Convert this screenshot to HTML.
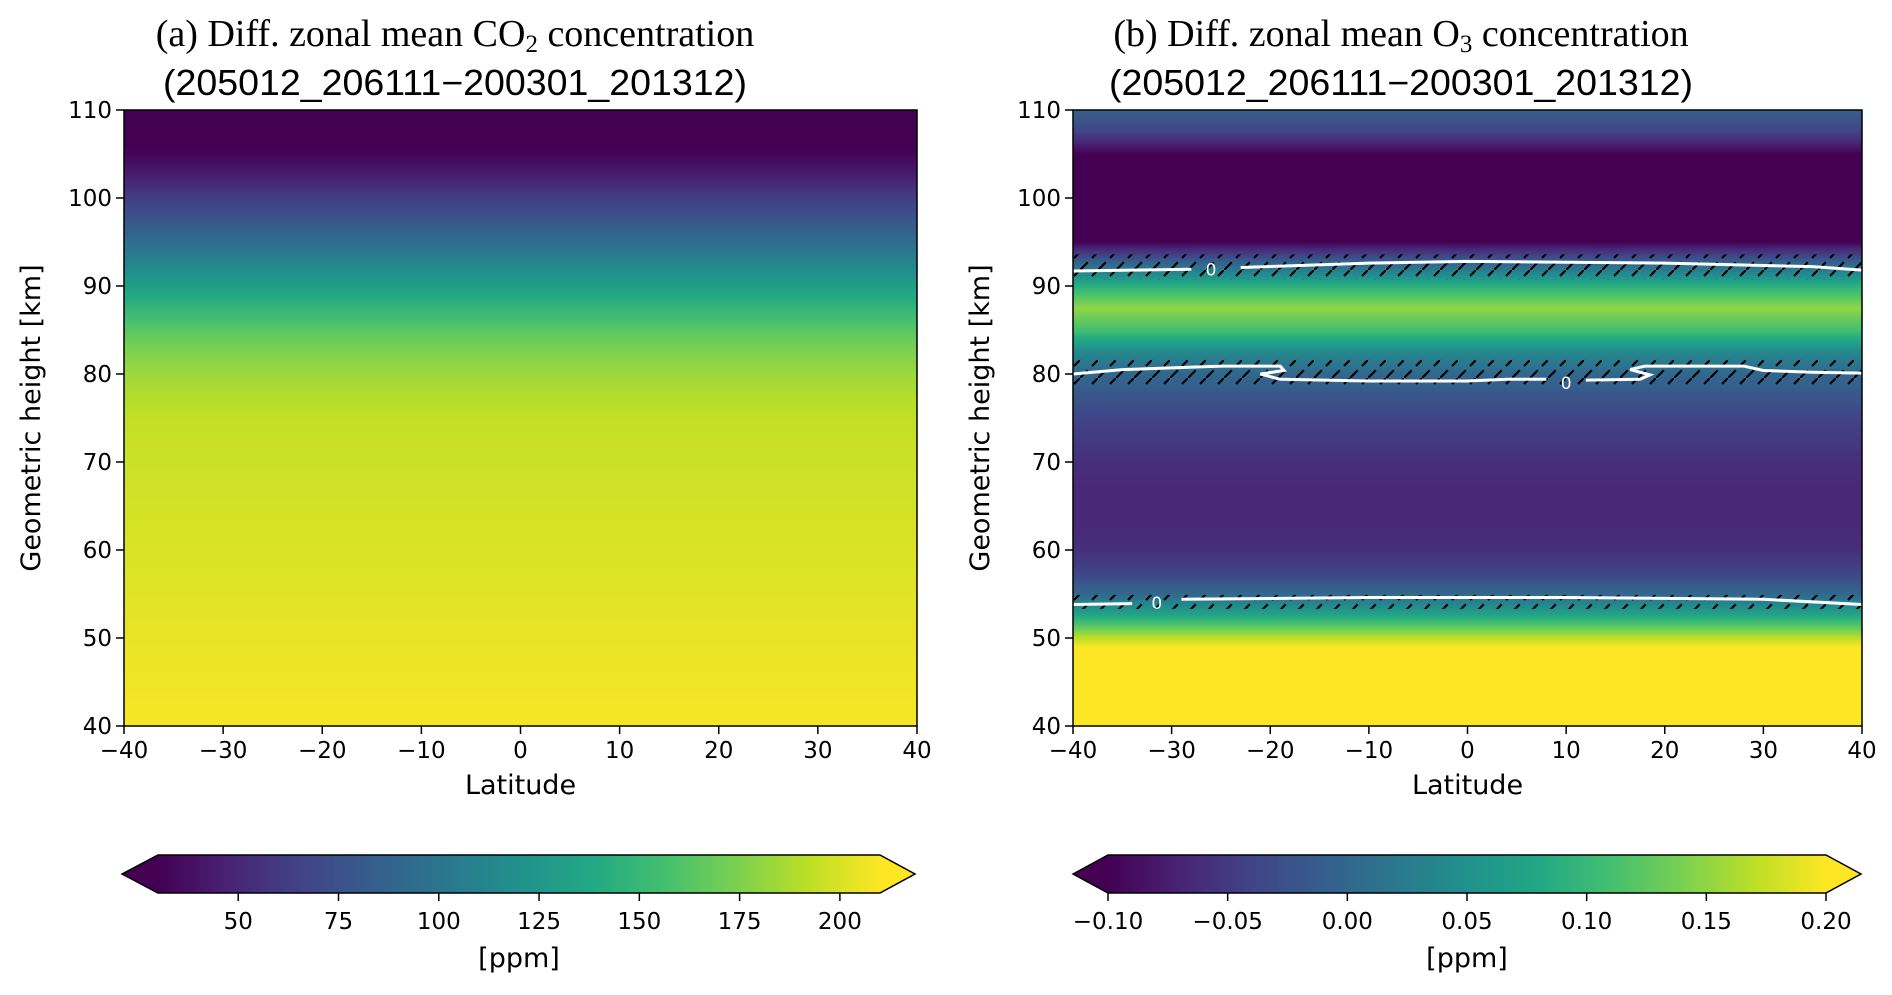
<!DOCTYPE html>
<html><head><meta charset="utf-8"><style>
html,body{margin:0;padding:0;background:#fff;}
svg{display:block;}
text{fill:#000;}
.tick{font-family:"DejaVu Sans","Liberation Sans",sans-serif;font-size:23px;}
.lab{font-family:"DejaVu Sans","Liberation Sans",sans-serif;font-size:27px;}
.ttl{font-family:"Liberation Serif",serif;font-size:38px;}
.ttl2{font-family:"Liberation Sans",sans-serif;font-size:36px;}
</style></head><body>
<svg id="fig" width="1892" height="995" viewBox="0 0 1892 995" xmlns="http://www.w3.org/2000/svg">
<defs>
<pattern id="hatch" patternUnits="userSpaceOnUse" width="18" height="18">
<path d="M0,18 L18,0" stroke="#000" stroke-width="2.2" stroke-dasharray="11,6"/>
</pattern>
</defs>
</svg>
<script>
// ---- data ----
const heights = [40,42.5,45,47.5,50,52.5,55,57.5,60,62.5,65,67.5,70,72.5,75,77.5,80,82.5,85,87.5,90,92.5,95,97.5,100,102.5,105,107.5,110];
const co2Values = [208,207,206,205,204,203,202,201,200,199,198,197,196,195,193,189,183,175,163,148,130,112,95,78,62,45,32,25,25];
const o3Values = [0.25,0.25,0.25,0.24,0.17,0.08,0.0,-0.04,-0.06,-0.065,-0.065,-0.065,-0.06,-0.05,-0.04,-0.02,0.0,0.04,0.11,0.15,0.09,0.0,-0.1,-0.13,-0.14,-0.13,-0.1,-0.04,-0.01];
const latTicks = [-40,-30,-20,-10,0,10,20,30,40];
const hTicks = [40,50,60,70,80,90,100,110];
const co2CbarTicks = [50,75,100,125,150,175,200];
const co2CbarLabels = ["50","75","100","125","150","175","200"];
const o3CbarTicks = [-0.10,-0.05,0.00,0.05,0.10,0.15,0.20];
const o3CbarLabels = ["\u22120.10","\u22120.05","0.00","0.05","0.10","0.15","0.20"];
const contour1a = [[-40,91.7],[-34,91.8],[-28,91.9]];
const contour1b = [[-23,92.1],[-10,92.6],[0,92.8],[20,92.6],[35,92.2],[40,91.8]];
const contour2a = [[-40,80],[-35,80.5],[-25,80.9],[-19,80.9],[-18.6,80.4],[-21,80.0],[-19,79.4],[-10,79.2],[0,79.2],[4,79.4],[8,79.4]];
const contour2b = [[12,79.3],[17.5,79.4],[18.5,79.9],[16.5,80.5],[18,80.9],[28,80.9],[30,80.4],[35,80.2],[40,80.1]];
const contour3a = [[-40,53.8],[-34,53.9]];
const contour3b = [[-29,54.4],[-10,54.6],[10,54.6],[30,54.4],[40,53.8]];
const contourLabels = [[-26,92.0],[10,79.1],[-31.5,54.1]];
const hatchBands = [[90.7,93.6],[78.6,81.6],[53.3,54.9]];

const vir=[[68,1,84],[72,36,117],[65,68,135],[53,95,141],[42,120,142],[33,145,140],[34,168,132],[68,191,112],[122,209,81],[189,223,38],[253,231,37]];
function viridis(t){t=Math.max(0,Math.min(1,t));const f=t*10,i=Math.min(9,Math.floor(f)),r=f-i;const a=vir[i],b=vir[i+1];return `rgb(${Math.round(a[0]+(b[0]-a[0])*r)},${Math.round(a[1]+(b[1]-a[1])*r)},${Math.round(a[2]+(b[2]-a[2])*r)})`;}
function interpH(vals,h){for(let i=0;i<heights.length-1;i++){if(h>=heights[i]&&h<=heights[i+1]){const r=(h-heights[i])/(heights[i+1]-heights[i]);return vals[i]+(vals[i+1]-vals[i])*r;}}return vals[vals.length-1];}

const svg=document.getElementById('fig');
const NS='http://www.w3.org/2000/svg';
function el(tag,attrs,parent){const e=document.createElementNS(NS,tag);for(const k in attrs)e.setAttribute(k,attrs[k]);(parent||svg).appendChild(e);return e;}

function panel(cfg){
  const {x0,x1,y0,y1,vals,vmin,vmax,name}=cfg;
  const g=el('g',{});
  
  
  const xs=l=>x0+(l+40)/80*(x1-x0);
  const ys=h=>y1-(h-40)/70*(y1-y0);
  const hm=el('g',{},g);
  
  
  for(let y=y0;y<y1;y+=2){
    const h=40+(y1-(y+1))/(y1-y0)*70;
    const v=interpH(vals,h);
    const r=el('rect',{x:x0,y:y,width:x1-x0,height:2.6,fill:viridis((v-vmin)/(vmax-vmin))},hm);
    
    
  }
  if(cfg.contours){
    hatchBands.forEach(b=>{
      const r=el('rect',{x:x0,y:ys(b[1]),width:x1-x0,height:ys(b[0])-ys(b[1]),fill:'url(#hatch)'},g);
      
      
    });
    cfg.contours.forEach(c=>{
      const p=el('polyline',{points:c.map(q=>xs(q[0])+','+ys(q[1])).join(' '),fill:'none',stroke:'#fff','stroke-width':3},g);
      
      
    });
    contourLabels.forEach(c=>{
      const t=el('text',{x:xs(c[0]),y:ys(c[1])+7,'text-anchor':'middle',class:'tick',style:'fill:#fff;font-size:17px'},g);
      t.textContent='0';
      
      
    });
  }
  const fr=el('rect',{x:x0,y:y0,width:x1-x0,height:y1-y0,fill:'none',stroke:'#000','stroke-width':1.5},g);
  
  
  latTicks.forEach(l=>{
    el('line',{x1:xs(l),x2:xs(l),y1:y1,y2:y1+8,stroke:'#000','stroke-width':1.5},g);
    const t=el('text',{x:xs(l),y:y1+32,'text-anchor':'middle',class:'tick'},g);
    t.textContent=l<0?'\u2212'+(-l):String(l);
    
    
  });
  hTicks.forEach(h=>{
    el('line',{x1:x0-8,x2:x0,y1:ys(h),y2:ys(h),stroke:'#000','stroke-width':1.5},g);
    const t=el('text',{x:x0-12,y:ys(h)+8,'text-anchor':'end',class:'tick'},g);
    t.textContent=String(h);
    
    
  });
  const xl=el('text',{x:(x0+x1)/2,y:y1+68,'text-anchor':'middle',class:'lab'},g);
  xl.textContent='Latitude';
  
  
  const yl=el('text',{x:0,y:0,'text-anchor':'middle',class:'lab',transform:`translate(${x0-84},${(y0+y1)/2}) rotate(-90)`},g);
  yl.textContent='Geometric height [km]';
  
  
  const cb=cfg.cbar; const cy0=855,cy1=893,cm=874;
  const cg=el('g',{},g);
  
  
  const cx=v=>cb.b0+(v-vmin)/(vmax-vmin)*(cb.b1-cb.b0);
  el('polygon',{points:`${cb.t0},${cm} ${cb.b0},${cy0} ${cb.b0},${cy1}`,fill:viridis(0)},cg);
  el('polygon',{points:`${cb.t1},${cm} ${cb.b1},${cy0} ${cb.b1},${cy1}`,fill:viridis(1)},cg);
  for(let x=cb.b0;x<cb.b1;x+=2){el('rect',{x:x,y:cy0,width:2.6,height:cy1-cy0,fill:viridis((x-cb.b0)/(cb.b1-cb.b0))},cg);}
  el('polygon',{points:`${cb.t0},${cm} ${cb.b0},${cy0} ${cb.b1},${cy0} ${cb.t1},${cm} ${cb.b1},${cy1} ${cb.b0},${cy1}`,fill:'none',stroke:'#000','stroke-width':1.5},cg);
  cb.ticks.forEach((v,i)=>{
    el('line',{x1:cx(v),x2:cx(v),y1:cy1,y2:cy1+8,stroke:'#000','stroke-width':1.5},cg);
    const t=el('text',{x:cx(v),y:cy1+36,'text-anchor':'middle',class:'tick'},cg);
    t.textContent=cb.labels[i];
    
    
  });
  const cl=el('text',{x:(cb.b0+cb.b1)/2,y:967,'text-anchor':'middle',class:'lab'},cg);
  cl.textContent='[ppm]';
  
  
  const t1=el('text',{x:cfg.tx,y:46,'text-anchor':'middle',class:'ttl'},g);
  t1.innerHTML=cfg.title;
  
  
  const t2=el('text',{x:cfg.tx,y:95,'text-anchor':'middle',class:'ttl2',textLength:584,lengthAdjust:'spacingAndGlyphs'},g);
  t2.textContent='(205012_206111\u2212200301_201312)';
  
  
}
panel({name:'co2',x0:124,x1:917,y0:110,y1:726,vals:co2Values,vmin:30,vmax:210,tx:455,
  title:'(a) Diff. zonal mean CO<tspan baseline-shift="-25%" font-size="25">2</tspan> concentration',
  cbar:{t0:122,b0:158,b1:880,t1:915,ticks:co2CbarTicks,labels:co2CbarLabels}});
panel({name:'o3',x0:1073,x1:1862,y0:110,y1:726,vals:o3Values,vmin:-0.1,vmax:0.2,tx:1401,
  contours:[contour1a,contour1b,contour2a,contour2b,contour3a,contour3b],
  title:'(b) Diff. zonal mean O<tspan baseline-shift="-25%" font-size="25">3</tspan> concentration',
  cbar:{t0:1073,b0:1108,b1:1826,t1:1861,ticks:o3CbarTicks,labels:o3CbarLabels}});
</script>
</body></html>
